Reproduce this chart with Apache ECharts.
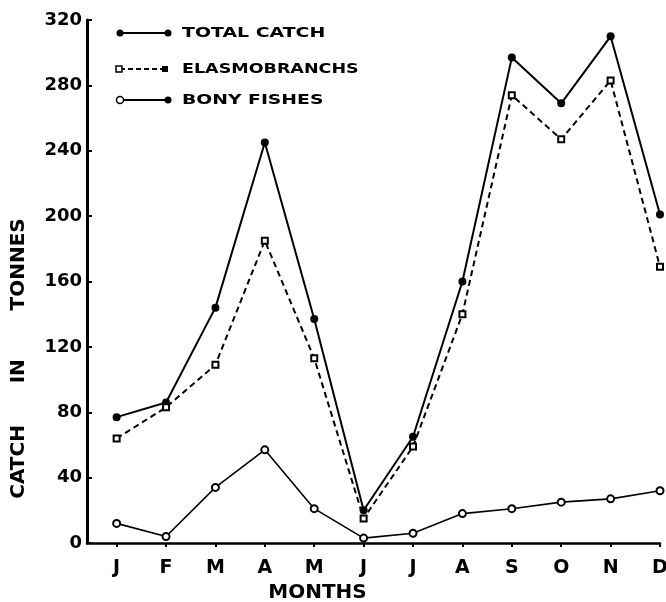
<!DOCTYPE html>
<html><head><meta charset="utf-8">
<script src="https://cdn.jsdelivr.net/npm/echarts@6/dist/echarts.min.js"></script>
<style>html,body{margin:0;padding:0;background:#fff}#c{width:666px;height:602px}</style>
</head><body><div id="c"></div>
<script>
const months = ['J','F','M','A','M','J','J','A','S','O','N','D'];
const totalCatch = [77, 86, 144, 245, 137, 20, 65, 160, 297, 269, 310, 201];
const elasmobranchs = [64, 83, 109, 185, 113, 15, 59, 140, 274, 247, 283, 169];
const bonyFishes = [12, 4, 34, 57, 21, 3, 6, 18, 21, 25, 27, 32];
const yTicks = [0, 40, 80, 120, 160, 200, 240, 280, 320];
const legendNames = ['TOTAL CATCH', 'ELASMOBRANCHS', 'BONY FISHES'];

const toXY = arr => arr.map((v, i) => [i, v]);
const font = 'DejaVu Sans';
const chart = echarts.init(document.getElementById('c'), null, {renderer: 'canvas'});
chart.setOption({
  animation: false,
  backgroundColor: '#fff',
  grid: {left: 87, right: 6, top: 20, bottom: 59, outerBoundsMode: 'none', containLabel: false},
  xAxis: {
    type: 'value', min: -0.6, max: 11,
    name: 'MONTHS', nameLocation: 'middle', nameGap: 38,
    nameTextStyle: {fontFamily: font, fontWeight: 'bold', fontSize: 20, color: '#000', padding: [0, 112, 0, 0]},
    axisLine: {show: true, lineStyle: {color: '#000', width: 2.5}},
    axisTick: {show: true, length: 4, customValues: months.map((m, i) => i), lineStyle: {color: '#000', width: 2}},
    axisLabel: {customValues: months.map((m, i) => i), formatter: v => months[v], margin: 16,
      fontFamily: font, fontWeight: 'bold', fontSize: 19, color: '#000'},
    splitLine: {show: false}
  },
  yAxis: {
    type: 'value', min: 0, max: 320, interval: 40,
    name: 'CATCH      IN       TONNES', nameLocation: 'middle', nameGap: 58, nameRotate: 90,
    nameTextStyle: {fontFamily: font, fontWeight: 'bold', fontSize: 20, color: '#000', padding: [0, 154, 0, 0]},
    axisLine: {show: true, onZero: false, lineStyle: {color: '#000', width: 3}},
    axisTick: {show: true, inside: true, length: 5, lineStyle: {color: '#000', width: 2}},
    axisLabel: {margin: 5, fontFamily: font, fontWeight: 'bold', fontSize: 18, color: '#000',
      formatter: v => yTicks.includes(v) ? String(v) : ''},
    splitLine: {show: false}
  },
  series: [
    {name: legendNames[0], type: 'line', data: toXY(totalCatch), symbol: 'circle', symbolSize: 8,
     lineStyle: {color: '#000', width: 2}, itemStyle: {color: '#000'}},
    {name: legendNames[1], type: 'line', data: toXY(elasmobranchs), symbol: 'rect', symbolSize: 6,
     lineStyle: {color: '#000', width: 2, type: [6, 4]}, itemStyle: {color: '#fff', borderColor: '#000', borderWidth: 2}},
    {name: legendNames[2], type: 'line', data: toXY(bonyFishes), symbol: 'circle', symbolSize: 7,
     lineStyle: {color: '#000', width: 1.6}, itemStyle: {color: '#fff', borderColor: '#000', borderWidth: 2}}
  ],
  graphic: [
    {type: 'line', shape: {x1: 120, y1: 33, x2: 168, y2: 33}, style: {stroke: '#000', lineWidth: 2}},
    {type: 'circle', shape: {cx: 120, cy: 33, r: 3.5}, style: {fill: '#000'}},
    {type: 'circle', shape: {cx: 168, cy: 33, r: 3.5}, style: {fill: '#000'}},
    {type: 'text', x: 182, y: 33, scaleX: 1.35, style: {text: legendNames[0], fontFamily: font, fontWeight: 'bold', fontSize: 14, fill: '#000', verticalAlign: 'middle'}},
    {type: 'line', shape: {x1: 120, y1: 69, x2: 163, y2: 69}, style: {stroke: '#000', lineWidth: 2, lineDash: [5, 3]}},
    {type: 'rect', shape: {x: 116, y: 66, width: 6, height: 6}, style: {fill: '#fff', stroke: '#000', lineWidth: 1.5}},
    {type: 'rect', shape: {x: 162, y: 66, width: 6, height: 6}, style: {fill: '#000'}},
    {type: 'text', x: 182, y: 69, scaleX: 1.25, style: {text: legendNames[1], fontFamily: font, fontWeight: 'bold', fontSize: 14, fill: '#000', verticalAlign: 'middle'}},
    {type: 'line', shape: {x1: 120, y1: 100, x2: 168, y2: 100}, style: {stroke: '#000', lineWidth: 2}},
    {type: 'circle', shape: {cx: 120, cy: 100, r: 3.5}, style: {fill: '#fff', stroke: '#000', lineWidth: 1.5}},
    {type: 'circle', shape: {cx: 168, cy: 100, r: 3.5}, style: {fill: '#000'}},
    {type: 'text', x: 182, y: 100, scaleX: 1.34, style: {text: legendNames[2], fontFamily: font, fontWeight: 'bold', fontSize: 14, fill: '#000', verticalAlign: 'middle'}}
  ]
});
</script></body></html>
